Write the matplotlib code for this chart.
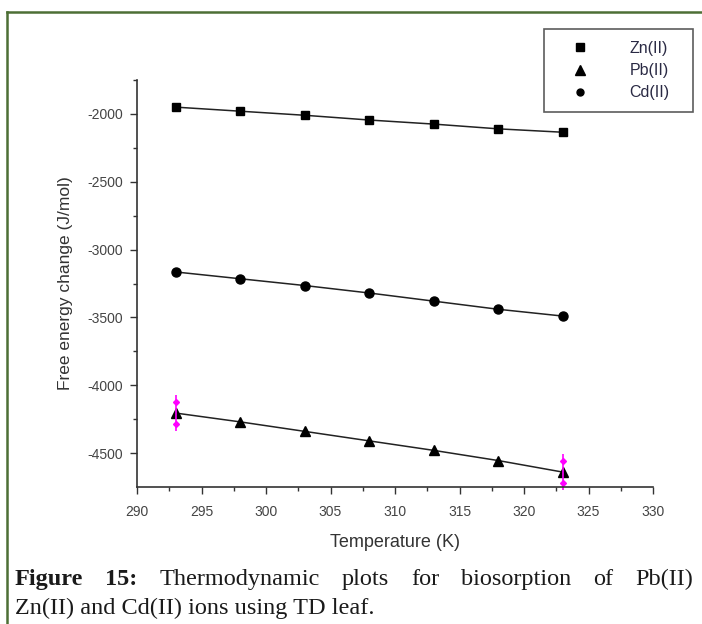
import matplotlib
matplotlib.use("Agg")
from matplotlib import pyplot as plt
from matplotlib.lines import Line2D

# data
temperature = [293, 298, 303, 308, 313, 318, 323]
zn_energy = [-1950, -1980, -2010, -2045, -2075, -2110, -2135]
pb_energy = [-4205, -4270, -4340, -4410, -4480, -4555, -4640]
cd_energy = [-3165, -3215, -3265, -3320, -3380, -3440, -3490]

# magenta selection bars on first and last Pb(II) point
pb_bar_index = [0, 6]
pb_bar_half = 130

x_ticks = [290, 295, 300, 305, 310, 315, 320, 325, 330]
y_ticks = [-4500, -4000, -3500, -3000, -2500, -2000]

plt.rcParams["font.family"] = ["Liberation Sans", "DejaVu Sans"]
plt.rcParams["axes.unicode_minus"] = False

W, H = 702, 624
fig = plt.figure(figsize=(W / 100, H / 100), dpi=100)
ax = fig.add_axes([137 / W, 1 - 487 / H, (653 - 137) / W, (487 - 80) / H])

line_kw = dict(color="#222222", linewidth=1.1)
ax.plot(temperature, zn_energy, marker="s", markersize=6, markerfacecolor="black",
        markeredgecolor="black", **line_kw)
ax.plot(temperature, cd_energy, marker="o", markersize=6.5, markerfacecolor="black",
        markeredgecolor="black", **line_kw)
ax.plot(temperature, pb_energy, marker="^", markersize=7.5, markerfacecolor="black",
        markeredgecolor="black", **line_kw)

for i in pb_bar_index:
    ax.errorbar(temperature[i], pb_energy[i], yerr=pb_bar_half, color="#ff00ff",
                ecolor="#ff00ff", elinewidth=1.2, capsize=0, fmt="none", clip_on=False)
    ax.plot([temperature[i]] * 2, [pb_energy[i] - 80, pb_energy[i] + 80], linestyle="none",
            marker="D", markersize=3, color="#ff00ff", clip_on=False)

ax.set_xlim(290, 330)
ax.set_ylim(-4750, -1750)
ax.set_xticks(x_ticks)
ax.set_yticks(y_ticks)
ax.set_xticks([t + 2.5 for t in x_ticks[:-1]], minor=True)
ax.set_yticks([t + 250 for t in y_ticks], minor=True)

for side in ["top", "right"]:
    ax.spines[side].set_visible(False)
for side in ["left", "bottom"]:
    ax.spines[side].set_color("#333333")
    ax.spines[side].set_linewidth(1.2)

ax.tick_params(which="major", direction="out", length=5, width=1, colors="#333333",
               labelsize=10, labelcolor="#444444")
ax.tick_params(which="minor", direction="out", length=3, width=1, colors="#333333")
ax.tick_params(axis="y", pad=5)
ax.tick_params(axis="x", pad=8)

ax.set_xlabel("Temperature (K)", fontsize=13, color="#333333", labelpad=11)
ax.set_ylabel("Free energy change (J/mol)", fontsize=12.5, color="#333333", labelpad=10)

handles = [
    Line2D([], [], linestyle="none", marker="s", markersize=5.5, color="black"),
    Line2D([], [], linestyle="none", marker="^", markersize=7, color="black"),
    Line2D([], [], linestyle="none", marker="o", markersize=5, color="black"),
]
leg = fig.legend(handles, ["Zn(II)", "Pb(II)", "Cd(II)"], loc="upper left",
                 bbox_to_anchor=(544 / W, 1 - 29 / H, (693 - 544) / W, 0), mode="expand",
                 frameon=True, fancybox=False,
                 edgecolor="#333333", fontsize=11.5, handlelength=3.0, handletextpad=1.6,
                 borderpad=0.75, labelspacing=0.45, borderaxespad=0)
leg.get_frame().set_linewidth(1.2)
for t in leg.get_texts():
    t.set_color("#2a2a44")

# green frame around the figure
frame_color = "#4d6f35"
fig.add_artist(Line2D([7 / W, 1], [1 - 12 / H, 1 - 12 / H], color=frame_color,
                      linewidth=1.8, transform=fig.transFigure))
fig.add_artist(Line2D([7 / W, 7 / W], [1 - 12 / H, 0], color=frame_color,
                      linewidth=1.8, transform=fig.transFigure))

# caption, first line justified between x=15 and x=693
serif = ["Liberation Serif", "DejaVu Serif"]
cap_size = 17.5
line1 = [("Figure", "bold"), ("15:", "bold"), ("Thermodynamic", "normal"), ("plots", "normal"),
         ("for", "normal"), ("biosorption", "normal"), ("of", "normal"), ("Pb(II)", "normal")]
line2 = "Zn(II) and Cd(II) ions using TD leaf."

renderer = fig.canvas.get_renderer()
texts = []
for word, weight in line1:
    t = fig.text(0, 1 - 585 / H, word, family=serif, fontsize=cap_size, fontweight=weight,
                 color="#1a1a1a", va="baseline", ha="left")
    texts.append(t)
widths = [t.get_window_extent(renderer).width for t in texts]
gap = (693 - 15 - sum(widths)) / (len(texts) - 1)
xpos = 15
for t, w in zip(texts, widths):
    t.set_x(xpos / W)
    xpos += w + gap
fig.text(15 / W, 1 - 614 / H, line2, family=serif, fontsize=cap_size, color="#1a1a1a",
         va="baseline", ha="left")

fig.savefig("out.png", dpi=100)
